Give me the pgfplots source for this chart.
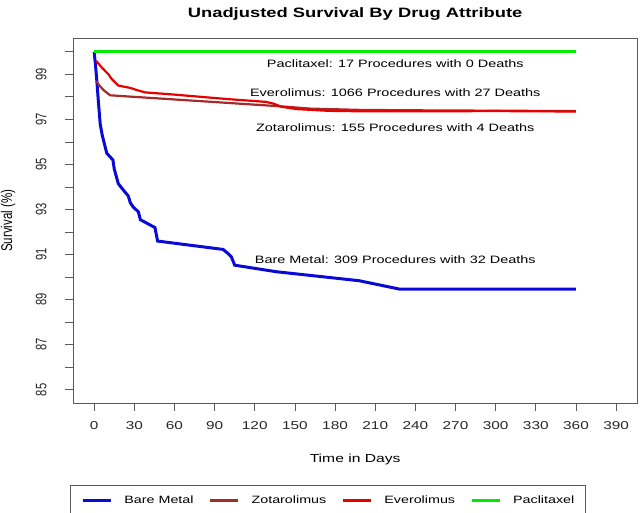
\documentclass[border=0pt]{standalone}
\usepackage{pgfplots}
\pgfplotsset{compat=1.18}
\usepackage{fontspec}
\setmainfont{Liberation Sans}[FakeStretch=1.35]
\newfontfamily\rotfont{Liberation Sans}
\definecolor{rblue}{RGB}{10,10,215}
\definecolor{rred}{RGB}{230,0,0}
\definecolor{rbrown}{RGB}{165,42,42}
\definecolor{rgreen}{RGB}{0,235,0}
\definecolor{frame}{RGB}{90,90,90}
\begin{document}
\begin{tikzpicture}[x=1pt,y=1pt]
\useasboundingbox (0,0) rectangle (640,513);
\begin{axis}[
  at={(73.3pt,109.7pt)}, anchor=south west,
  scale only axis, width=563.7pt, height=365pt,
  xmin=-15.6, xmax=405.6, ymin=84.4, ymax=100.6,
  xtick={0,30,...,390}, ytick={85,...,100},
  yticklabels={85,,87,,89,,91,,93,,95,,97,,99,{}},
  tick pos=left, tick align=outside, major tick length=8pt,
  axis line style={frame, line width=0.8pt},
  tick style={frame, line width=0.8pt},
  /pgf/number format/assume math mode=true,
  xticklabel style={font=\fontsize{11.4}{13}\selectfont, text=black!85, yshift=-7pt},
  yticklabel shift=14pt,
  yticklabel style={font=\rotfont\fontsize{11.2}{12}\selectfont, text=black!85, rotate=90, yscale=1.35, anchor=south},
  title={Unadjusted Survival By Drug Attribute},
  title style={at={(axis description cs:0.5,1.05)}, anchor=center, font=\bfseries\fontsize{13.6}{16}\selectfont},
  xlabel={Time in Days},
  xlabel style={at={(axis description cs:0.5,-0.153)}, anchor=center, font=\fontsize{11.6}{14}\selectfont},
  ylabel={Survival (\%)},
  ylabel style={at={(axis description cs:-0.1158,0.5)}, anchor=center, rotate=0, font=\rotfont\fontsize{11.5}{13}\selectfont, yscale=1.35},
  legend columns=4,
  legend image code/.code={\draw[#1, line width=3pt] (0pt,0pt) -- (28pt,0pt);},
  legend style={at={(axis description cs:-0.00585,-0.2238)}, anchor=north west,
    draw=frame, line width=0.8pt, font=\fontsize{10.6}{12}\selectfont,
    inner xsep=11pt, inner ysep=10.5pt, nodes={inner sep=0pt},
    /tikz/every odd column/.append style={column sep=12pt},
    /tikz/every even column/.append style={column sep=15pt}},
]
\addplot[rblue, line width=3pt] coordinates {
(0,100) (1,99.4) (2,98.7) (3,97.9) (4.5,96.8) (6,96.3) (9.4,95.5) (14,95.2) (15,94.8)
(18,94.15) (22,93.85) (25.5,93.6) (27,93.3) (29.3,93.1) (33,92.9) (34.5,92.55)
(45.4,92.2) (47.4,91.6) (96.3,91.23) (100,91.05) (102.5,90.9) (105,90.53)
(136,90.24) (198,89.84) (228,89.47) (360,89.47)};
\addlegendentry{Bare Metal}
\addplot[rbrown, line width=2.2pt] coordinates {
(1.5,98.7) (4,98.5) (7,98.3) (11.9,98.07) (142,97.57) (161,97.48) (200,97.42) (250,97.4) (360,97.37)};
\addlegendentry{Zotarolimus}
\addplot[rred, line width=2.2pt] coordinates {
(1.5,99.6) (5.7,99.3) (10.7,99.0) (13,98.8) (18.1,98.5) (26.8,98.4) (32,98.3) (38,98.2)
(60,98.1) (100,97.9) (128,97.78) (134,97.7) (140,97.56) (151,97.46) (175,97.38)
(200,97.36) (250,97.36) (300,97.37) (360,97.35)};
\addlegendentry{Everolimus}
\addplot[rgreen, line width=3pt] coordinates {(0,100) (360,100)};
\addlegendentry{Paclitaxel\hspace{14pt}}
\node[font=\fontsize{10.7}{12}\selectfont] at (axis cs:225,99.46) {Paclitaxel: 17 Procedures with 0 Deaths};
\node[font=\fontsize{10.7}{12}\selectfont] at (axis cs:225,98.17) {Everolimus: 1066 Procedures with 27 Deaths};
\node[font=\fontsize{10.7}{12}\selectfont] at (axis cs:225,96.62) {Zotarolimus: 155 Procedures with 4 Deaths};
\node[font=\fontsize{10.7}{12}\selectfont] at (axis cs:225,90.78) {Bare Metal: 309 Procedures with 32 Deaths};
\end{axis}
\end{tikzpicture}
\end{document}
